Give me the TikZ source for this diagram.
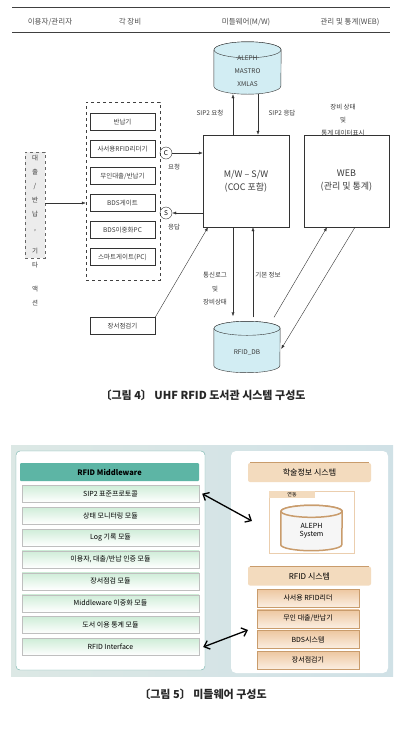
\documentclass[tikz,border=0pt]{standalone}
\usepackage{fontspec}
\setmainfont{Noto Sans CJK KR}
\usetikzlibrary{arrows.meta,positioning,calc}

\definecolor{dbblue}{HTML}{D2EDF3}
\definecolor{mwteal}{HTML}{5DB5A5}
\definecolor{mwedge}{HTML}{6FB0A8}
\definecolor{mwgreen}{HTML}{CFEDD8}
\definecolor{bgleft}{HTML}{DCE8E5}
\definecolor{bgright}{HTML}{D0E1E6}
\definecolor{tanhead}{HTML}{F3DBBE}
\definecolor{tanline}{HTML}{C99C6C}
\definecolor{tanitem}{HTML}{EDC7A0}
\definecolor{tanlight}{HTML}{FBEEE1}
\definecolor{inkgray}{HTML}{3A3A3A}

\newcommand\smallko{\fontsize{6.5}{8}\selectfont}
\newcommand\midko{\fontsize{9}{13}\selectfont}
\newcommand\capko{\fontsize{11}{13}\selectfont}

\tikzset{
  hdr/.style={font=\fontsize{7.5}{9}\selectfont, text=black!70},
  lbl/.style={font=\smallko, text=inkgray, inner sep=1pt},
  dev/.style={draw=black!80, minimum width=65, minimum height=17,
              inner sep=0pt, font=\smallko, text=inkgray},
  mwbox/.style={draw=black!80, minimum width=86, minimum height=92,
                align=center, font=\midko, text=inkgray},
  drumbox/.style={inner sep=0pt},
  arr/.style={draw=black!80, -{Latex[length=4pt,width=3pt]}},
  captxt/.style={font=\capko\bfseries, text=black!85},
  mod/.style={draw=black!25, top color=mwgreen, bottom color=white,
              minimum width=177, minimum height=17, inner sep=0pt,
              font=\fontsize{7}{8}\selectfont},
  tanhdr/.style={fill=tanhead, rounded corners=2, minimum width=123,
                 minimum height=19, inner sep=0pt, font=\fontsize{8}{9}\selectfont},
  tanitembox/.style={draw=tanline, top color=tanitem, bottom color=tanlight,
                     minimum width=102, minimum height=18, inner sep=0pt,
                     font=\fontsize{7}{8}\selectfont},
  dbl/.style={line width=1.3pt,
              {Straight Barb[length=5pt,width=9pt]}-{Straight Barb[length=5pt,width=9pt]}}
}

\begin{document}
\begin{tikzpicture}[x=1pt,y=-1pt]
\useasboundingbox (0,0) rectangle (403,729);
  % drum over a named node: name, half width, half height of the rim, style
  \def\drum#1#2#3#4{%
    \filldraw[#4] ([yshift=-#3pt]#1.north west) -- ([yshift=#3pt]#1.south west)
      arc[start angle=180, end angle=360, x radius=#2pt, y radius=#3pt]
      -- ([yshift=-#3pt]#1.north east)
      arc[start angle=0, end angle=180, x radius=#2pt, y radius=#3pt] -- cycle;
    \draw[#4] ([yshift=-#3pt]#1.north) ellipse[x radius=#2pt, y radius=#3pt];
  }

% header row
\draw[black!75] (12,7) -- (390,7);
\draw[black!75, thick] (12,32) -- (390,32);
\node[hdr] (h1) at (50,22) {이용자/관리자};
\node[hdr] (h2) at (130,22) {각 장비};
\node[hdr] (h3) at (246,22) {미들웨어(M/W)};
\node[hdr] (h4) at (350,22) {관리 및 통계(WEB)};

% user column
\node[draw=black!60, dashed, fill=gray!15, minimum width=20, minimum height=106] (user) at (35,205) {};
\node[lbl, align=center, anchor=north, font=\fontsize{6.5}{14}\selectfont] (act) at (35,154)
  {대\\출\\/\\반\\납\\,\\[9pt]기\\타\\[10pt]액\\션};

% devices
\node[draw=black!75, dashed, minimum width=74, minimum height=178] (devbox) at (123,191) {};
\foreach \t [count=\i] in {반납기, 사서용RFID리더기, {무인대출/반납기}, BDS게이트, BDS이중화PC, 스마트게이트(PC)}
  \node[dev] (dev\i) at (122.5,95+27*\i) {\t};
\node[dev] (inv) at (122.5,326) {장서점검기};
\draw[arr] (user.east |- dev4) -- (devbox.west |- dev4);

\node[draw=black!80, circle, minimum size=12, inner sep=0pt, font=\smallko] (cc) at (166,153) {C};
\node[draw=black!80, circle, minimum size=12, inner sep=0pt, font=\smallko] (ss) at (166,213) {S};
\node[lbl] (req) at (174,167) {요청};
\node[lbl] (resp) at (174,227) {응답};

% middleware and web
\node[mwbox] (mw) at (246,181) {M/W – S/W\\(COC 포함)};
\node[mwbox, minimum width=85] (web) at (346.5,181) {WEB\\(관리 및 통계)};
\node[lbl, align=center, font=\fontsize{6.5}{13}\selectfont] (webtxt) at (343,120) {장비 상태\\및\\통계 데이터표시};

\draw[arr] (cc.east) -- (cc -| mw.west);
\draw[arr] (ss -| mw.west) -- (ss.east);

% ALEPH
\node[drumbox, minimum width=67, minimum height=52] (aleph) at (247.5,68) {};
\drum{aleph}{33.5}{8}{draw=black!80, fill=dbblue}
\node[lbl, align=center, font=\fontsize{6.5}{13}\selectfont] (alephtxt) at (247.5,71) {ALEPH\\MASTRO\\XMLAS};
\draw[arr] ([xshift=-13]mw.north) -- ([xshift=-13]mw.north |- aleph.south);
\draw[arr] ([xshift=12]mw.north |- aleph.south) -- ([xshift=12]mw.north);
\node[lbl] (sipq) at (210,113) {SIP2 요청};
\node[lbl] (sipa) at (282,113) {SIP2 응답};

% RFID DB
\node[drumbox, minimum width=66, minimum height=51] (rdb) at (247,347) {};
\drum{rdb}{33}{7}{draw=black!80, fill=dbblue}
\node[lbl] (rdbtxt) at (247,353) {RFID\_DB};
\draw[arr, shorten >=5pt] ([xshift=-13]mw.south) -- ([xshift=-13]mw.south |- rdb.north);
\draw[arr, shorten <=4pt] ([xshift=7]mw.south |- rdb.north) -- ([xshift=7]mw.south);
\node[lbl, align=center, font=\fontsize{6.5}{13.5}\selectfont] (logtxt) at (215,289) {통신로그\\및\\장비상태};
\node[lbl] (basetxt) at (268,275) {기본 정보};
\draw[arr] ([shift={(27,-4)}]rdb.north) -- ([xshift=-19.5]web.south);
\draw[arr] ([xshift=8.5]web.south) -- ([shift={(1,2)}]rdb.east);
\draw[arr] (inv.north east) -- ([xshift=-38]mw.south);

\node[captxt] (cap4) at (203,395) {〔그림 4〕 UHF RFID 도서관 시스템 구성도};

% ---- middleware structure
\fill[left color=bgleft, right color=bgright] (11,445) rectangle (393,676);
\draw[mwedge, fill=white, rounded corners=4] (16,451) rectangle (205,670);
\fill[white, rounded corners=5] (231,451) rectangle (388,673);

\node[fill=mwteal, rounded corners=1, minimum width=179, minimum height=18, inner sep=0pt,
      font=\fontsize{7.5}{9}\selectfont\bfseries] (mwh) at (109.5,472) {RFID Middleware};
\foreach \t [count=\i] in {SIP2 표준프로토콜, 상태 모니터링 모듈, Log 기록 모듈,
    {이용자, 대출/반납 인증 모듈}, 장서점검 모듈, Middleware 이중화 모듈,
    도서 이용 통계 모듈, RFID Interface}
  \node[mod] (mod\i) at (110.5,471.8+21.9*\i) {\t};

\node[tanhdr] (acad) at (309.5,472.5) {학술정보 시스템};
\draw[tanline, line width=1.2pt] ([xshift=2]acad.north west) -- ([xshift=-2]acad.north east);
\node[draw=tanhead!80!tanline, fill=white, minimum width=85, minimum height=62] (lnk) at (311.5,522) {};
\node[fill=tanhead, anchor=north west, minimum width=46, minimum height=7, inner sep=0pt,
      font=\fontsize{5}{6}\selectfont] (tab) at (lnk.north west) {연동};
\node[drumbox, minimum width=61, minimum height=45] (alephsys) at (311.5,528) {};
\drum{alephsys}{30.5}{6}{draw=tanline, line width=1.5pt, fill=gray!7}
\node[align=center, font=\fontsize{7}{8}\selectfont] (alephsystxt) at (311.5,531) {ALEPH\\System};

\node[tanhdr] (rfidh) at (309.5,576) {RFID 시스템};
\draw[tanline, line width=1.2pt] ([xshift=2]rfidh.north west) -- ([xshift=-2]rfidh.north east);
\foreach \t [count=\i] in {사서용 RFID리더, {무인 대출/반납기}, BDS시스템, 장서점검기}
  \node[tanitembox] (item\i) at (308,577.3+20.7*\i) {\t};

\coordinate (a1) at (252,521);
\coordinate (a2) at (248,630);
\draw[dbl] ([xshift=3]mod1.east) -- (a1);
\draw[dbl] ([xshift=4]mod8.east) -- (a2);

\node[captxt] (cap5) at (203,694) {〔그림 5〕 미들웨어 구성도};
\end{tikzpicture}
\end{document}
